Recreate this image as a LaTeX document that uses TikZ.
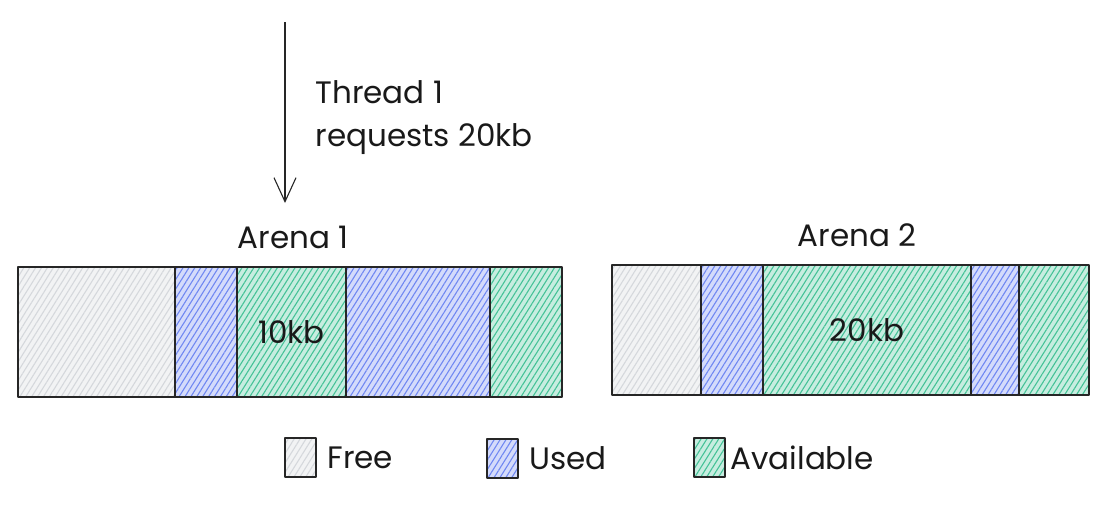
\documentclass[tikz,border=0pt]{standalone}
\usepackage{fontspec}
\setmainfont{Poppins}
\usetikzlibrary{positioning, arrows.meta, patterns.meta}
\definecolor{freeC}{HTML}{D5D8DC}
\definecolor{usedC}{HTML}{7088F2}
\definecolor{availC}{HTML}{45C297}

\begin{document}
\begin{tikzpicture}[
    x=1pt, y=-1pt,
    every node/.style={font=\fontsize{31}{43}\selectfont, text=black!90},
    seg/.style={rectangle, draw=black!85, line width=1.6pt, line join=round, outer sep=0pt, inner sep=0pt,
        minimum height=130pt, anchor=north west, preaction={fill=#1!30},
        pattern={Lines[angle=58, distance=5pt, line width=1.1pt]}, pattern color=#1},
    legbox/.style={seg=#1, line width=1.3pt, minimum width=31pt, minimum height=39pt},
    reqarr/.style={-{Straight Barb[length=24pt, width=22pt, line width=1.1pt]}, line width=1.1pt, black!85},
]
    \useasboundingbox (0,0) rectangle (1113,504);

    % arena 1
    \node[seg=freeC,  minimum width=157pt] (a1free) at (18,267) {};
    \node[seg=usedC,  minimum width=62pt,  right=0pt of a1free]  (a1used)  {};
    \node[seg=availC, minimum width=109pt, right=0pt of a1used]  (a1avail) {10kb};
    \node[seg=usedC,  minimum width=144pt, right=0pt of a1avail] (a1used2) {};
    \node[seg=availC, minimum width=72pt,  right=0pt of a1used2] (a1avail2) {};
    \node (arena1) at (293,237) {Arena 1};

    % arena 2
    \node[seg=freeC,  minimum width=89pt] (a2free) at (612,265) {};
    \node[seg=usedC,  minimum width=62pt,  right=0pt of a2free]  (a2used)  {};
    \node[seg=availC, minimum width=208pt, right=0pt of a2used]  (a2avail) {20kb};
    \node[seg=usedC,  minimum width=48pt,  right=0pt of a2avail] (a2used2) {};
    \node[seg=availC, minimum width=70pt,  right=0pt of a2used2] (a2avail2) {};
    \node (arena2) at (857,235) {Arena 2};

    % request
    \coordinate (reqTop) at (285,22);
    \coordinate (reqTip) at (285,203);
    \draw[reqarr] (reqTop) -- (reqTip);
    \node[anchor=west, align=left] (req) at (312,118) {Thread 1\\requests 20kb};

    % legend
    \node[legbox=freeC]  (kfree)  at (285,438) {};
    \node[right=8pt of kfree]  (tfree)  {Free};
    \node[legbox=usedC]  (kused)  at (487,439) {};
    \node[right=8pt of kused]  (tused)  {Used};
    \node[legbox=availC] (kavail) at (694,438) {};
    \node[right=2pt of kavail] (tavail) {Available};
\end{tikzpicture}
\end{document}
